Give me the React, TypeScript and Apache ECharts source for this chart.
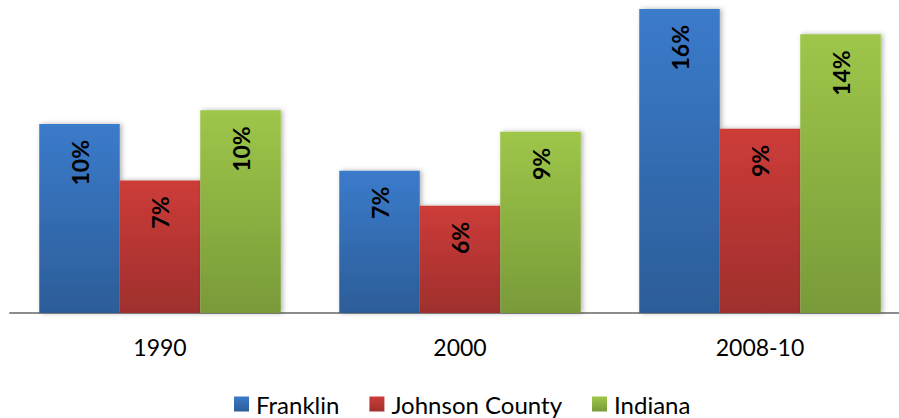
import React, { useEffect, useRef } from "react";
import * as echarts from "echarts";

const categories = ["1990", "2000", "2008-10"];
const franklin = [9.7, 7.3, 15.6];
const johnson = [6.8, 5.5, 9.45];
const indiana = [10.4, 9.3, 14.3];
const seriesNames = ["Franklin", "Johnson County", "Indiana"];

const grad = (top: string, bottom: string) =>
  new echarts.graphic.LinearGradient(0, 0, 0, 1, [
    { offset: 0, color: top },
    { offset: 1, color: bottom },
  ]);

const colorPairs: [string, string][] = [
  ["#3b7bcb", "#2c5d98"],
  ["#cd3c39", "#9f2f2d"],
  ["#9ec649", "#799a39"],
];

export default function App() {
  const ref = useRef<HTMLDivElement>(null);
  useEffect(() => {
    if (!ref.current) return;
    const chart = echarts.init(ref.current, undefined, { renderer: "svg" });
    const datasets = [franklin, johnson, indiana];
    chart.setOption({
      animation: false,
      grid: {
        left: 10,
        top: 9,
        width: 900,
        height: 304,
        containLabel: false,
        outerBoundsMode: "none",
      },
      legend: {
        left: 234,
        bottom: 2,
        padding: 0,
        itemWidth: 15,
        itemHeight: 15,
        itemGap: 30,
        icon: "rect",
        textStyle: {
          fontFamily: "Lato",
          fontSize: 24,
          color: "#000",
          padding: [0, 0, 0, 2],
        },
        data: seriesNames,
      },
      xAxis: {
        type: "category",
        data: categories,
        axisLine: { show: true, lineStyle: { color: "#8c8c8c", width: 2 } },
        axisTick: { show: false },
        axisLabel: {
          fontFamily: "Lato",
          fontSize: 23,
          color: "#000",
          margin: 22,
        },
      },
      yAxis: {
        type: "value",
        min: 0,
        max: 15.6,
        show: false,
        splitLine: { show: false },
      },
      series: datasets.map((d, i) => ({
        name: seriesNames[i],
        type: "bar",
        data: d,
        barGap: "0%",
        barCategoryGap: "19.5%",
        itemStyle: {
          color: grad(colorPairs[i][0], colorPairs[i][1]),
          shadowBlur: 5,
          shadowOffsetX: 2,
          shadowOffsetY: 0,
          shadowColor: "rgba(0,0,0,0.3)",
        },
        label: {
          show: true,
          position: "insideTop",
          rotate: 90,
          align: "right",
          verticalAlign: "middle",
          distance: 16,
          fontFamily: "Lato",
          fontWeight: "bold",
          fontSize: 23,
          color: "#000",
          formatter: (p: any) => Math.round(p.value) + "%",
        },
      })),
    });
    return () => chart.dispose();
  }, []);
  return (
    <div
      ref={ref}
      style={{ width: 899, height: 418, position: "absolute", left: 0, top: 0 }}
    />
  );
}
